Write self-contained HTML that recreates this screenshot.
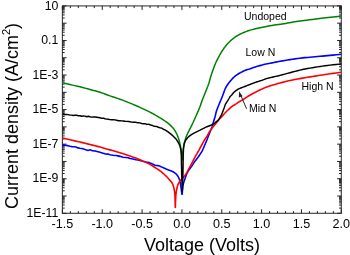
<!DOCTYPE html>
<html><head><meta charset="utf-8"><style>
html,body{margin:0;padding:0;background:#fff;}
body{width:350px;height:255px;overflow:hidden;}
svg{display:block;font-family:"Liberation Sans",sans-serif;}
text{filter:grayscale(1);}
</style></head><body>
<svg width="350" height="255" viewBox="0 0 350 255">
<rect x="62.4" y="5.9" width="278.90000000000003" height="207.4" fill="none" stroke="#3a3a3a" stroke-width="1.1"/>
<path d="M62.40 213.3v-4.0M62.40 5.9v4.0M70.37 213.3v-2.2M70.37 5.9v2.2M78.34 213.3v-2.2M78.34 5.9v2.2M86.31 213.3v-2.2M86.31 5.9v2.2M94.27 213.3v-2.2M94.27 5.9v2.2M102.24 213.3v-4.0M102.24 5.9v4.0M110.21 213.3v-2.2M110.21 5.9v2.2M118.18 213.3v-2.2M118.18 5.9v2.2M126.15 213.3v-2.2M126.15 5.9v2.2M134.12 213.3v-2.2M134.12 5.9v2.2M142.09 213.3v-4.0M142.09 5.9v4.0M150.05 213.3v-2.2M150.05 5.9v2.2M158.02 213.3v-2.2M158.02 5.9v2.2M165.99 213.3v-2.2M165.99 5.9v2.2M173.96 213.3v-2.2M173.96 5.9v2.2M181.93 213.3v-4.0M181.93 5.9v4.0M189.90 213.3v-2.2M189.90 5.9v2.2M197.87 213.3v-2.2M197.87 5.9v2.2M205.83 213.3v-2.2M205.83 5.9v2.2M213.80 213.3v-2.2M213.80 5.9v2.2M221.77 213.3v-4.0M221.77 5.9v4.0M229.74 213.3v-2.2M229.74 5.9v2.2M237.71 213.3v-2.2M237.71 5.9v2.2M245.68 213.3v-2.2M245.68 5.9v2.2M253.65 213.3v-2.2M253.65 5.9v2.2M261.61 213.3v-4.0M261.61 5.9v4.0M269.58 213.3v-2.2M269.58 5.9v2.2M277.55 213.3v-2.2M277.55 5.9v2.2M285.52 213.3v-2.2M285.52 5.9v2.2M293.49 213.3v-2.2M293.49 5.9v2.2M301.46 213.3v-4.0M301.46 5.9v4.0M309.43 213.3v-2.2M309.43 5.9v2.2M317.39 213.3v-2.2M317.39 5.9v2.2M325.36 213.3v-2.2M325.36 5.9v2.2M333.33 213.3v-2.2M333.33 5.9v2.2M341.30 213.3v-4.0M341.30 5.9v4.0M62.4 213.30h4.2M341.3 213.30h-4.2M62.4 208.10h2.3M341.3 208.10h-2.3M62.4 205.05h2.3M341.3 205.05h-2.3M62.4 202.89h2.3M341.3 202.89h-2.3M62.4 201.22h2.3M341.3 201.22h-2.3M62.4 199.85h2.3M341.3 199.85h-2.3M62.4 198.69h2.3M341.3 198.69h-2.3M62.4 197.69h2.3M341.3 197.69h-2.3M62.4 196.81h2.3M341.3 196.81h-2.3M62.4 196.02h4.2M341.3 196.02h-4.2M62.4 190.81h2.3M341.3 190.81h-2.3M62.4 187.77h2.3M341.3 187.77h-2.3M62.4 185.61h2.3M341.3 185.61h-2.3M62.4 183.94h2.3M341.3 183.94h-2.3M62.4 182.57h2.3M341.3 182.57h-2.3M62.4 181.41h2.3M341.3 181.41h-2.3M62.4 180.41h2.3M341.3 180.41h-2.3M62.4 179.52h2.3M341.3 179.52h-2.3M62.4 178.73h4.2M341.3 178.73h-4.2M62.4 173.53h2.3M341.3 173.53h-2.3M62.4 170.49h2.3M341.3 170.49h-2.3M62.4 168.33h2.3M341.3 168.33h-2.3M62.4 166.65h2.3M341.3 166.65h-2.3M62.4 165.28h2.3M341.3 165.28h-2.3M62.4 164.13h2.3M341.3 164.13h-2.3M62.4 163.12h2.3M341.3 163.12h-2.3M62.4 162.24h2.3M341.3 162.24h-2.3M62.4 161.45h4.2M341.3 161.45h-4.2M62.4 156.25h2.3M341.3 156.25h-2.3M62.4 153.20h2.3M341.3 153.20h-2.3M62.4 151.04h2.3M341.3 151.04h-2.3M62.4 149.37h2.3M341.3 149.37h-2.3M62.4 148.00h2.3M341.3 148.00h-2.3M62.4 146.84h2.3M341.3 146.84h-2.3M62.4 145.84h2.3M341.3 145.84h-2.3M62.4 144.96h2.3M341.3 144.96h-2.3M62.4 144.17h4.2M341.3 144.17h-4.2M62.4 138.96h2.3M341.3 138.96h-2.3M62.4 135.92h2.3M341.3 135.92h-2.3M62.4 133.76h2.3M341.3 133.76h-2.3M62.4 132.09h2.3M341.3 132.09h-2.3M62.4 130.72h2.3M341.3 130.72h-2.3M62.4 129.56h2.3M341.3 129.56h-2.3M62.4 128.56h2.3M341.3 128.56h-2.3M62.4 127.67h2.3M341.3 127.67h-2.3M62.4 126.88h4.2M341.3 126.88h-4.2M62.4 121.68h2.3M341.3 121.68h-2.3M62.4 118.64h2.3M341.3 118.64h-2.3M62.4 116.48h2.3M341.3 116.48h-2.3M62.4 114.80h2.3M341.3 114.80h-2.3M62.4 113.43h2.3M341.3 113.43h-2.3M62.4 112.28h2.3M341.3 112.28h-2.3M62.4 111.27h2.3M341.3 111.27h-2.3M62.4 110.39h2.3M341.3 110.39h-2.3M62.4 109.60h4.2M341.3 109.60h-4.2M62.4 104.40h2.3M341.3 104.40h-2.3M62.4 101.35h2.3M341.3 101.35h-2.3M62.4 99.19h2.3M341.3 99.19h-2.3M62.4 97.52h2.3M341.3 97.52h-2.3M62.4 96.15h2.3M341.3 96.15h-2.3M62.4 94.99h2.3M341.3 94.99h-2.3M62.4 93.99h2.3M341.3 93.99h-2.3M62.4 93.11h2.3M341.3 93.11h-2.3M62.4 92.32h4.2M341.3 92.32h-4.2M62.4 87.11h2.3M341.3 87.11h-2.3M62.4 84.07h2.3M341.3 84.07h-2.3M62.4 81.91h2.3M341.3 81.91h-2.3M62.4 80.24h2.3M341.3 80.24h-2.3M62.4 78.87h2.3M341.3 78.87h-2.3M62.4 77.71h2.3M341.3 77.71h-2.3M62.4 76.71h2.3M341.3 76.71h-2.3M62.4 75.82h2.3M341.3 75.82h-2.3M62.4 75.03h4.2M341.3 75.03h-4.2M62.4 69.83h2.3M341.3 69.83h-2.3M62.4 66.79h2.3M341.3 66.79h-2.3M62.4 64.63h2.3M341.3 64.63h-2.3M62.4 62.95h2.3M341.3 62.95h-2.3M62.4 61.58h2.3M341.3 61.58h-2.3M62.4 60.43h2.3M341.3 60.43h-2.3M62.4 59.42h2.3M341.3 59.42h-2.3M62.4 58.54h2.3M341.3 58.54h-2.3M62.4 57.75h4.2M341.3 57.75h-4.2M62.4 52.55h2.3M341.3 52.55h-2.3M62.4 49.50h2.3M341.3 49.50h-2.3M62.4 47.34h2.3M341.3 47.34h-2.3M62.4 45.67h2.3M341.3 45.67h-2.3M62.4 44.30h2.3M341.3 44.30h-2.3M62.4 43.14h2.3M341.3 43.14h-2.3M62.4 42.14h2.3M341.3 42.14h-2.3M62.4 41.26h2.3M341.3 41.26h-2.3M62.4 40.47h4.2M341.3 40.47h-4.2M62.4 35.26h2.3M341.3 35.26h-2.3M62.4 32.22h2.3M341.3 32.22h-2.3M62.4 30.06h2.3M341.3 30.06h-2.3M62.4 28.39h2.3M341.3 28.39h-2.3M62.4 27.02h2.3M341.3 27.02h-2.3M62.4 25.86h2.3M341.3 25.86h-2.3M62.4 24.86h2.3M341.3 24.86h-2.3M62.4 23.97h2.3M341.3 23.97h-2.3M62.4 23.18h4.2M341.3 23.18h-4.2M62.4 17.98h2.3M341.3 17.98h-2.3M62.4 14.94h2.3M341.3 14.94h-2.3M62.4 12.78h2.3M341.3 12.78h-2.3M62.4 11.10h2.3M341.3 11.10h-2.3M62.4 9.73h2.3M341.3 9.73h-2.3M62.4 8.58h2.3M341.3 8.58h-2.3M62.4 7.57h2.3M341.3 7.57h-2.3M62.4 6.69h2.3M341.3 6.69h-2.3M62.4 5.90h4.2M341.3 5.90h-4.2" stroke="#222" stroke-width="1" fill="none"/>
<g><text x="62.40" y="228" text-anchor="middle" font-size="12.6">-1.5</text><text x="102.24" y="228" text-anchor="middle" font-size="12.6">-1.0</text><text x="142.09" y="228" text-anchor="middle" font-size="12.6">-0.5</text><text x="181.93" y="228" text-anchor="middle" font-size="12.6">0.0</text><text x="221.77" y="228" text-anchor="middle" font-size="12.6">0.5</text><text x="261.61" y="228" text-anchor="middle" font-size="12.6">1.0</text><text x="301.46" y="228" text-anchor="middle" font-size="12.6">1.5</text><text x="341.30" y="228" text-anchor="middle" font-size="12.6">2.0</text><text x="58.4" y="9.60" text-anchor="end" font-size="12.3">10</text><text x="58.4" y="44.17" text-anchor="end" font-size="12.3">0.1</text><text x="58.4" y="78.73" text-anchor="end" font-size="12.3">1E-3</text><text x="58.4" y="113.30" text-anchor="end" font-size="12.3">1E-5</text><text x="58.4" y="147.87" text-anchor="end" font-size="12.3">1E-7</text><text x="58.4" y="182.43" text-anchor="end" font-size="12.3">1E-9</text><text x="58.4" y="217.00" text-anchor="end" font-size="12.3">1E-11</text></g>
<text x="202" y="250.5" font-size="18" text-anchor="middle">Voltage (Volts)</text>
<text transform="translate(18.25,116) rotate(-90)" font-size="18" text-anchor="middle">Current density (A/cm<tspan font-size="11" dy="-8.7">2</tspan><tspan dy="8.7">)</tspan></text>
<path d="M62.60 82.80 L63.87 83.11 L65.67 83.56 L67.79 84.08 L70.00 84.60 L72.32 85.11 L74.84 85.64 L77.44 86.21 L80.00 86.80 L82.50 87.44 L85.00 88.11 L87.50 88.81 L90.00 89.50 L92.50 90.17 L95.00 90.84 L97.50 91.54 L100.00 92.30 L102.50 93.15 L105.00 94.07 L107.50 95.00 L110.00 95.90 L112.50 96.73 L115.00 97.53 L117.50 98.34 L120.00 99.20 L122.50 100.12 L125.00 101.09 L127.50 102.08 L130.00 103.10 L132.50 104.14 L135.00 105.19 L137.50 106.28 L140.00 107.40 L142.62 108.61 L145.31 109.90 L147.85 111.14 L150.00 112.20 L151.60 113.02 L152.81 113.67 L153.87 114.26 L155.00 114.90 L156.25 115.60 L157.50 116.32 L158.75 117.05 L160.00 117.80 L161.30 118.60 L162.62 119.44 L163.89 120.26 L165.00 121.00 L165.91 121.63 L166.69 122.19 L167.37 122.71 L168.00 123.20 L168.57 123.65 L169.06 124.06 L169.52 124.47 L170.00 124.90 L170.50 125.37 L171.00 125.86 L171.50 126.36 L172.00 126.90 L172.51 127.47 L173.03 128.08 L173.54 128.70 L174.00 129.30 L174.41 129.87 L174.78 130.42 L175.14 130.99 L175.50 131.60 L175.88 132.27 L176.26 132.99 L176.64 133.73 L177.00 134.50 L177.35 135.30 L177.68 136.13 L178.00 136.97 L178.30 137.80 L178.57 138.59 L178.82 139.37 L179.06 140.16 L179.30 141.00 L179.54 141.91 L179.77 142.87 L179.99 143.84 L180.20 144.80 L180.39 145.74 L180.57 146.67 L180.74 147.59 L180.90 148.50 L181.06 149.38 L181.21 150.23 L181.36 151.09 L181.50 152.00 L181.64 152.96 L181.77 153.97 L181.89 154.99 L182.00 156.00 L182.09 157.19 L182.16 158.50 L182.23 159.56 L182.30 160.00 L182.37 159.59 L182.44 158.56 L182.52 157.26 L182.60 156.00 L182.69 154.80 L182.79 153.50 L182.89 152.20 L183.00 151.00 L183.11 149.93 L183.23 148.94 L183.36 147.98 L183.50 147.00 L183.65 145.98 L183.82 144.95 L184.00 143.94 L184.20 143.00 L184.42 142.16 L184.66 141.41 L184.91 140.64 L185.20 139.80 L185.51 138.85 L185.83 137.83 L186.19 136.77 L186.60 135.70 L187.07 134.62 L187.60 133.51 L188.15 132.40 L188.70 131.30 L189.24 130.22 L189.79 129.16 L190.35 128.09 L190.90 127.00 L191.43 125.94 L191.96 124.89 L192.50 123.77 L193.10 122.50 L193.76 121.06 L194.46 119.49 L195.21 117.81 L196.00 116.00 L196.87 114.01 L197.81 111.87 L198.75 109.69 L199.60 107.60 L200.33 105.65 L200.98 103.77 L201.61 101.91 L202.30 100.00 L203.07 98.02 L203.88 96.01 L204.70 93.99 L205.50 92.00 L206.28 90.07 L207.04 88.18 L207.79 86.27 L208.50 84.30 L209.16 82.20 L209.78 80.02 L210.39 77.85 L211.00 75.80 L211.63 73.88 L212.26 72.05 L212.88 70.29 L213.50 68.60 L214.09 67.00 L214.66 65.49 L215.25 64.01 L215.90 62.50 L216.63 60.92 L217.43 59.32 L218.23 57.75 L219.00 56.30 L219.72 54.99 L220.41 53.77 L221.10 52.62 L221.80 51.50 L222.52 50.39 L223.24 49.32 L223.97 48.29 L224.70 47.30 L225.42 46.34 L226.15 45.42 L226.87 44.54 L227.60 43.70 L228.32 42.92 L229.04 42.18 L229.77 41.48 L230.50 40.80 L231.24 40.14 L231.99 39.50 L232.75 38.89 L233.50 38.30 L234.25 37.74 L235.01 37.20 L235.76 36.69 L236.50 36.20 L237.23 35.74 L237.95 35.31 L238.67 34.89 L239.40 34.50 L240.15 34.12 L240.90 33.77 L241.65 33.43 L242.40 33.10 L243.13 32.78 L243.86 32.48 L244.58 32.19 L245.30 31.90 L246.02 31.61 L246.74 31.33 L247.47 31.06 L248.20 30.80 L248.91 30.57 L249.61 30.35 L250.36 30.13 L251.20 29.90 L252.18 29.64 L253.26 29.36 L254.38 29.07 L255.50 28.80 L256.59 28.55 L257.69 28.30 L258.81 28.05 L260.00 27.80 L261.28 27.53 L262.64 27.25 L264.00 26.97 L265.30 26.70 L266.43 26.45 L267.44 26.21 L268.56 25.96 L270.00 25.70 L271.91 25.41 L274.15 25.11 L276.46 24.80 L278.60 24.50 L280.48 24.22 L282.24 23.96 L283.95 23.69 L285.70 23.40 L287.50 23.08 L289.30 22.75 L291.10 22.42 L292.90 22.10 L294.63 21.81 L296.32 21.54 L298.07 21.28 L300.00 21.00 L302.05 20.72 L304.20 20.44 L306.57 20.14 L309.30 19.80 L312.44 19.42 L315.93 19.00 L319.67 18.56 L323.60 18.10 L328.20 17.57 L333.34 16.99 L338.04 16.47 L341.30 16.10" stroke="#008000" stroke-width="1.5" fill="none" stroke-linejoin="round"/>
<path d="M62.60 144.90 L64.30 145.08 L66.00 145.50 L68.00 145.66 L70.00 146.30 L72.00 146.66 L74.00 146.80 L76.00 147.05 L78.00 147.90 L80.00 148.23 L82.00 148.50 L85.00 149.50 L88.00 150.40 L90.00 149.85 L92.00 150.60 L95.00 151.08 L98.00 151.75 L100.00 152.30 L103.00 153.18 L105.00 153.83 L108.00 154.10 L110.00 154.75 L113.00 155.18 L116.00 155.53 L118.00 155.85 L120.00 156.35 L123.00 157.20 L126.00 157.55 L128.00 157.75 L130.00 158.57 L133.00 158.92 L136.00 159.76 L138.00 160.08 L140.00 160.39 L143.00 161.24 L146.00 162.00 L148.00 162.18 L150.00 163.00 L153.00 164.20 L155.00 165.20 L158.00 165.60 L160.00 166.20 L163.00 167.60 L163.55 167.84 L164.34 168.19 L165.21 168.57 L166.00 168.90 L166.68 169.17 L167.32 169.42 L167.95 169.66 L168.60 169.90 L169.28 170.15 L169.98 170.39 L170.66 170.64 L171.30 170.90 L171.89 171.16 L172.45 171.43 L172.98 171.70 L173.50 172.00 L174.00 172.32 L174.49 172.67 L174.95 173.03 L175.40 173.40 L175.82 173.77 L176.23 174.14 L176.61 174.55 L177.00 175.00 L177.39 175.51 L177.78 176.06 L178.16 176.66 L178.50 177.30 L178.81 177.98 L179.09 178.70 L179.35 179.47 L179.60 180.30 L179.85 181.21 L180.08 182.20 L180.30 183.21 L180.50 184.20 L180.67 185.15 L180.82 186.09 L180.96 187.04 L181.10 188.00 L181.23 189.02 L181.36 190.09 L181.48 191.11 L181.60 192.00 L181.73 192.87 L181.86 193.73 L181.98 194.32 L182.10 194.40 L182.20 193.82 L182.28 192.73 L182.37 191.37 L182.50 190.00 L182.65 188.59 L182.83 187.04 L183.03 185.47 L183.30 184.00 L183.64 182.67 L184.05 181.41 L184.48 180.19 L184.90 179.00 L185.30 177.82 L185.69 176.66 L186.09 175.54 L186.50 174.50 L186.92 173.53 L187.34 172.62 L187.77 171.78 L188.20 171.00 L188.63 170.32 L189.07 169.72 L189.52 169.14 L190.00 168.50 L190.51 167.81 L191.06 167.09 L191.62 166.33 L192.20 165.50 L192.77 164.62 L193.34 163.68 L193.97 162.68 L194.70 161.60 L195.58 160.42 L196.58 159.16 L197.61 157.85 L198.60 156.50 L199.57 155.07 L200.54 153.57 L201.44 152.11 L202.20 150.80 L202.76 149.72 L203.17 148.79 L203.52 147.92 L203.90 147.00 L204.33 146.00 L204.76 144.98 L205.19 143.97 L205.60 143.00 L205.99 142.10 L206.36 141.25 L206.73 140.40 L207.10 139.50 L207.47 138.55 L207.83 137.56 L208.20 136.55 L208.60 135.50 L209.03 134.40 L209.49 133.25 L209.96 132.10 L210.40 131.00 L210.81 130.00 L211.21 129.06 L211.60 128.09 L212.00 127.00 L212.40 125.72 L212.81 124.31 L213.21 122.88 L213.60 121.50 L213.98 120.23 L214.36 119.00 L214.73 117.77 L215.10 116.50 L215.43 115.20 L215.72 113.88 L216.06 112.49 L216.50 111.00 L217.08 109.35 L217.76 107.58 L218.49 105.76 L219.20 104.00 L219.92 102.25 L220.67 100.48 L221.38 98.80 L222.00 97.30 L222.49 96.05 L222.88 94.98 L223.24 94.00 L223.60 93.00 L223.97 91.97 L224.33 90.95 L224.70 89.96 L225.10 89.00 L225.54 88.08 L226.01 87.18 L226.50 86.32 L227.00 85.50 L227.51 84.73 L228.03 84.00 L228.56 83.30 L229.10 82.60 L229.64 81.91 L230.18 81.23 L230.73 80.56 L231.30 79.90 L231.90 79.23 L232.52 78.56 L233.15 77.91 L233.80 77.30 L234.46 76.74 L235.13 76.21 L235.81 75.70 L236.50 75.20 L237.19 74.70 L237.88 74.22 L238.58 73.75 L239.30 73.30 L240.03 72.88 L240.78 72.47 L241.53 72.09 L242.30 71.70 L243.07 71.31 L243.84 70.93 L244.64 70.55 L245.50 70.20 L246.45 69.88 L247.46 69.59 L248.49 69.31 L249.50 69.00 L250.48 68.66 L251.44 68.31 L252.41 67.95 L253.40 67.60 L254.40 67.24 L255.41 66.88 L256.44 66.53 L257.50 66.20 L258.61 65.90 L259.76 65.63 L260.90 65.37 L262.00 65.10 L262.99 64.82 L263.90 64.55 L264.86 64.27 L266.00 64.00 L267.34 63.74 L268.81 63.48 L270.40 63.21 L272.10 62.90 L273.90 62.54 L275.81 62.14 L277.84 61.72 L280.00 61.30 L282.35 60.87 L284.87 60.44 L287.45 60.01 L290.00 59.60 L292.50 59.22 L295.00 58.86 L297.50 58.51 L300.00 58.20 L302.50 57.92 L305.00 57.67 L307.50 57.43 L310.00 57.20 L312.50 56.97 L315.00 56.74 L317.50 56.52 L320.00 56.30 L322.47 56.08 L324.92 55.86 L327.41 55.64 L330.00 55.40 L333.00 55.11 L336.27 54.79 L339.24 54.50 L341.30 54.30" stroke="#0000ff" stroke-width="1.6" fill="none" stroke-linejoin="round"/>
<path d="M62.60 138.00 L63.87 138.31 L65.67 138.76 L67.79 139.28 L70.00 139.80 L72.32 140.31 L74.84 140.86 L77.44 141.42 L80.00 142.00 L82.50 142.60 L85.00 143.23 L87.50 143.87 L90.00 144.50 L92.50 145.12 L95.00 145.73 L97.50 146.35 L100.00 147.00 L102.50 147.69 L105.00 148.41 L107.50 149.15 L110.00 149.87 L112.50 150.57 L115.00 151.26 L117.50 151.96 L120.00 152.70 L122.50 153.49 L125.00 154.30 L127.50 155.15 L130.00 156.03 L132.50 156.93 L135.00 157.85 L137.50 158.81 L140.00 159.82 L142.62 160.94 L145.31 162.14 L147.85 163.32 L150.00 164.38 L151.60 165.26 L152.81 166.02 L153.87 166.74 L155.00 167.50 L156.30 168.33 L157.62 169.19 L158.89 170.03 L160.00 170.80 L160.88 171.47 L161.61 172.07 L162.28 172.66 L163.00 173.30 L163.82 174.01 L164.67 174.77 L165.51 175.54 L166.30 176.30 L167.01 177.05 L167.68 177.79 L168.33 178.54 L169.00 179.30 L169.73 180.09 L170.48 180.90 L171.20 181.71 L171.80 182.50 L172.26 183.24 L172.61 183.95 L172.91 184.68 L173.20 185.50 L173.49 186.42 L173.75 187.41 L173.99 188.44 L174.20 189.50 L174.39 190.55 L174.54 191.62 L174.68 192.76 L174.80 194.00 L174.90 195.36 L174.98 196.81 L175.04 198.36 L175.10 200.00 L175.15 202.12 L175.20 204.59 L175.25 206.64 L175.30 207.50 L175.37 206.64 L175.44 204.59 L175.52 202.12 L175.60 200.00 L175.69 198.35 L175.78 196.78 L175.88 195.32 L176.00 194.00 L176.13 192.86 L176.27 191.88 L176.42 190.95 L176.60 190.00 L176.79 188.98 L177.01 187.95 L177.24 186.94 L177.50 186.00 L177.79 185.13 L178.10 184.31 L178.44 183.54 L178.80 182.80 L179.19 182.09 L179.61 181.42 L180.04 180.79 L180.50 180.20 L180.98 179.69 L181.48 179.23 L181.99 178.79 L182.50 178.30 L182.99 177.78 L183.47 177.26 L183.97 176.68 L184.50 176.00 L185.07 175.22 L185.66 174.36 L186.28 173.42 L186.90 172.40 L187.52 171.29 L188.15 170.09 L188.80 168.83 L189.50 167.50 L190.27 166.08 L191.09 164.58 L191.91 163.06 L192.70 161.60 L193.42 160.21 L194.11 158.87 L194.79 157.54 L195.50 156.20 L196.28 154.81 L197.11 153.39 L197.90 152.02 L198.60 150.80 L199.16 149.77 L199.62 148.89 L200.05 148.06 L200.50 147.20 L200.99 146.30 L201.49 145.40 L202.00 144.50 L202.50 143.60 L202.99 142.70 L203.47 141.81 L203.96 140.91 L204.50 140.00 L205.09 139.07 L205.72 138.14 L206.37 137.18 L207.00 136.20 L207.59 135.18 L208.16 134.14 L208.75 133.07 L209.40 132.00 L210.11 130.92 L210.86 129.82 L211.66 128.72 L212.50 127.60 L213.43 126.44 L214.42 125.24 L215.41 124.07 L216.30 123.00 L217.04 122.07 L217.69 121.22 L218.32 120.42 L219.00 119.60 L219.77 118.75 L220.59 117.89 L221.42 117.04 L222.20 116.20 L222.92 115.38 L223.61 114.58 L224.30 113.78 L225.00 113.00 L225.71 112.25 L226.42 111.53 L227.17 110.79 L228.00 110.00 L228.96 109.08 L230.02 108.09 L231.10 107.12 L232.10 106.30 L232.99 105.69 L233.83 105.22 L234.65 104.80 L235.50 104.30 L236.37 103.71 L237.24 103.08 L238.14 102.44 L239.10 101.80 L240.13 101.19 L241.21 100.60 L242.34 99.98 L243.50 99.30 L244.70 98.52 L245.93 97.68 L247.20 96.82 L248.50 96.00 L249.82 95.23 L251.17 94.49 L252.56 93.76 L254.00 93.00 L255.53 92.20 L257.14 91.37 L258.75 90.56 L260.30 89.80 L261.76 89.11 L263.16 88.47 L264.56 87.87 L266.00 87.30 L267.45 86.77 L268.91 86.29 L270.44 85.81 L272.10 85.30 L273.90 84.75 L275.81 84.18 L277.84 83.60 L280.00 83.00 L282.35 82.38 L284.87 81.72 L287.45 81.09 L290.00 80.50 L292.50 79.98 L295.00 79.50 L297.50 79.05 L300.00 78.60 L302.50 78.16 L305.00 77.73 L307.50 77.31 L310.00 76.90 L312.50 76.49 L315.00 76.09 L317.50 75.69 L320.00 75.30 L322.47 74.92 L324.92 74.54 L327.41 74.17 L330.00 73.80 L333.00 73.39 L336.27 72.96 L339.24 72.57 L341.30 72.30" stroke="#ff0000" stroke-width="1.6" fill="none" stroke-linejoin="round"/>
<path d="M62.60 114.30 L64.45 114.45 L66.30 114.40 L68.15 114.61 L70.00 115.10 L71.67 115.15 L73.33 115.53 L75.00 115.14 L76.67 115.31 L78.33 115.69 L80.00 115.70 L81.67 116.18 L83.33 116.09 L85.00 116.13 L86.67 116.70 L88.33 116.22 L90.00 116.70 L91.67 117.13 L93.33 116.92 L95.00 117.00 L96.67 117.17 L98.33 117.48 L100.00 117.80 L101.67 118.32 L103.33 118.18 L105.00 118.76 L106.67 119.10 L108.33 119.21 L110.00 119.60 L111.67 119.83 L113.33 119.69 L115.00 119.89 L116.67 120.19 L118.33 120.73 L120.00 120.80 L121.67 120.90 L123.33 120.97 L125.00 121.31 L126.67 121.37 L128.33 121.41 L130.00 121.70 L131.67 122.11 L133.33 122.24 L135.00 122.12 L136.67 122.55 L138.33 122.72 L140.00 122.90 L141.67 123.46 L143.33 123.66 L145.00 123.65 L146.67 124.44 L148.33 124.13 L150.00 124.70 L151.67 125.18 L153.33 125.95 L155.00 126.30 L156.67 126.52 L158.33 127.23 L160.00 127.70 L161.67 128.11 L163.33 129.28 L165.00 129.90 L167.70 131.60 L170.00 133.40 L173.00 135.90 L176.00 138.90 L178.00 142.00 L180.00 146.00 L180.90 150.00 L181.30 156.00 L181.50 165.00 L181.70 175.00 L182.00 184.00 L182.30 191.00 L182.60 184.00 L182.90 175.00 L183.10 165.00 L183.20 156.00 L183.50 149.00 L184.20 144.00 L185.50 140.50 L187.80 137.50 L190.00 135.60 L191.80 134.40 L195.00 132.60 L197.60 131.40 L200.00 130.20 L203.50 128.30 L207.00 126.70 L211.40 125.00 L211.96 124.69 L212.78 124.26 L213.66 123.76 L214.40 123.30 L214.95 122.87 L215.41 122.44 L215.84 122.02 L216.30 121.60 L216.78 121.24 L217.27 120.93 L217.77 120.55 L218.30 120.00 L218.90 119.18 L219.54 118.17 L220.17 117.12 L220.70 116.20 L221.11 115.45 L221.43 114.79 L221.71 114.16 L222.00 113.50 L222.29 112.82 L222.56 112.13 L222.82 111.43 L223.10 110.70 L223.40 109.93 L223.70 109.12 L224.00 108.30 L224.30 107.50 L224.58 106.69 L224.85 105.88 L225.12 105.10 L225.40 104.40 L225.69 103.80 L225.99 103.27 L226.30 102.78 L226.60 102.30 L226.90 101.83 L227.20 101.39 L227.50 100.96 L227.80 100.50 L228.10 100.01 L228.41 99.51 L228.71 99.00 L229.00 98.50 L229.27 98.01 L229.52 97.53 L229.79 97.05 L230.10 96.60 L230.46 96.19 L230.87 95.81 L231.29 95.42 L231.70 95.00 L232.09 94.52 L232.48 94.01 L232.88 93.50 L233.30 93.00 L233.75 92.53 L234.23 92.06 L234.71 91.62 L235.20 91.20 L235.69 90.82 L236.19 90.46 L236.69 90.13 L237.20 89.80 L237.70 89.49 L238.19 89.19 L238.71 88.90 L239.30 88.60 L239.98 88.30 L240.73 88.00 L241.51 87.70 L242.30 87.40 L243.07 87.11 L243.84 86.83 L244.64 86.53 L245.50 86.20 L246.45 85.83 L247.46 85.42 L248.49 85.00 L249.50 84.60 L250.48 84.22 L251.44 83.84 L252.41 83.47 L253.40 83.10 L254.40 82.74 L255.41 82.39 L256.44 82.05 L257.50 81.70 L258.61 81.35 L259.76 81.01 L260.90 80.66 L262.00 80.30 L262.99 79.93 L263.90 79.56 L264.86 79.18 L266.00 78.80 L267.34 78.41 L268.81 78.02 L270.40 77.62 L272.10 77.20 L273.90 76.79 L275.81 76.37 L277.84 75.92 L280.00 75.40 L282.35 74.79 L284.87 74.10 L287.45 73.39 L290.00 72.70 L292.50 72.03 L295.00 71.36 L297.50 70.71 L300.00 70.10 L302.50 69.55 L305.00 69.04 L307.50 68.56 L310.00 68.10 L312.50 67.67 L315.00 67.26 L317.50 66.88 L320.00 66.50 L322.47 66.13 L324.92 65.77 L327.41 65.43 L330.00 65.10 L333.00 64.76 L336.27 64.41 L339.24 64.11 L341.30 63.90" stroke="#000" stroke-width="1.45" fill="none" stroke-linejoin="round"/>
<g font-size="10.5"><text x="244" y="20">Undoped</text><text x="245.5" y="55.6">Low N</text><text x="301.5" y="90.2">High N</text><text x="249" y="112">Mid N</text></g>
<path d="M246.6 108.8L240.2 94" stroke="#222" stroke-width="1" fill="none"/><path d="M239.1 91.3L238.8 97.6L242.6 96.2Z" fill="#222"/>
</svg></body></html>
